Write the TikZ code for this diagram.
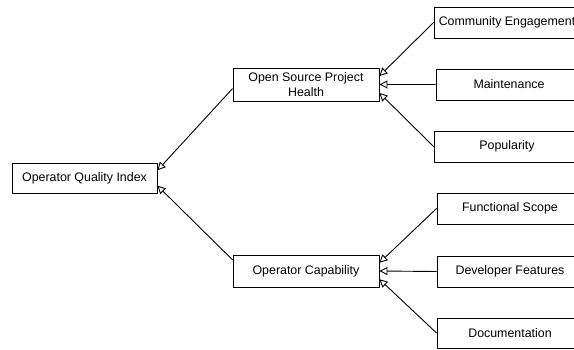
\documentclass[tikz,border=0pt]{standalone}
\usepackage{fontspec}
\setmainfont{Liberation Sans}
\usetikzlibrary{arrows.meta,calc}

\begin{document}
\begin{tikzpicture}[x=1pt,y=-1pt,line join=round,
  box/.style={draw,line width=0.9pt,minimum width=146pt,minimum height=31pt,inner sep=1pt,align=center,font=\fontsize{12.4}{15}\selectfont},
  link/.style={draw,line width=0.9pt,-{Triangle[open,length=8pt,width=8pt]}}]
  \clip (0,0) rectangle (574,349);
  % root and the two groups
  \node[box,minimum width=145pt,minimum height=30pt] (oqi) at (84.5,178) {Operator Quality Index};
  \node[box,minimum height=33pt] (osph) at (306,84.5) {Open Source Project\\Health};
  \node[box,minimum height=32pt] (opcap) at (306,271) {Operator Capability};
  % leaves
  \node[box] (commeng) at (507,22.5) {Community Engagement};
  \node[box] (maint) at (509,84.5) {Maintenance};
  \node[box] (popul) at (507,146.5) {Popularity};
  \node[box] (funcscope) at (510,208.5) {Functional Scope};
  \node[box] (devfeat) at (510,271.5) {Developer Features};
  \node[box,minimum height=30pt] (docs) at (510,333) {Documentation};
  % groups into the root
  \draw[link] ($(osph.north west)!0.62!(osph.south west)$) -- ($(oqi.north east)!0.25!(oqi.south east)$);
  \draw[link] ($(opcap.north west)!0.16!(opcap.south west)$) -- ($(oqi.north east)!0.75!(oqi.south east)$);
  % leaves into the groups
  \draw[link] (commeng.west) -- ($(osph.north east)!0.25!(osph.south east)$);
  \draw[link] (maint.west) -- ($(osph.north east)!0.5!(osph.south east)$);
  \draw[link] (popul.west) -- ($(osph.north east)!0.75!(osph.south east)$);
  \draw[link] (funcscope.west) -- ($(opcap.north east)!0.25!(opcap.south east)$);
  \draw[link] (devfeat.west) -- ($(opcap.north east)!0.5!(opcap.south east)$);
  \draw[link] (docs.west) -- ($(opcap.north east)!0.75!(opcap.south east)$);
\end{tikzpicture}
\end{document}
